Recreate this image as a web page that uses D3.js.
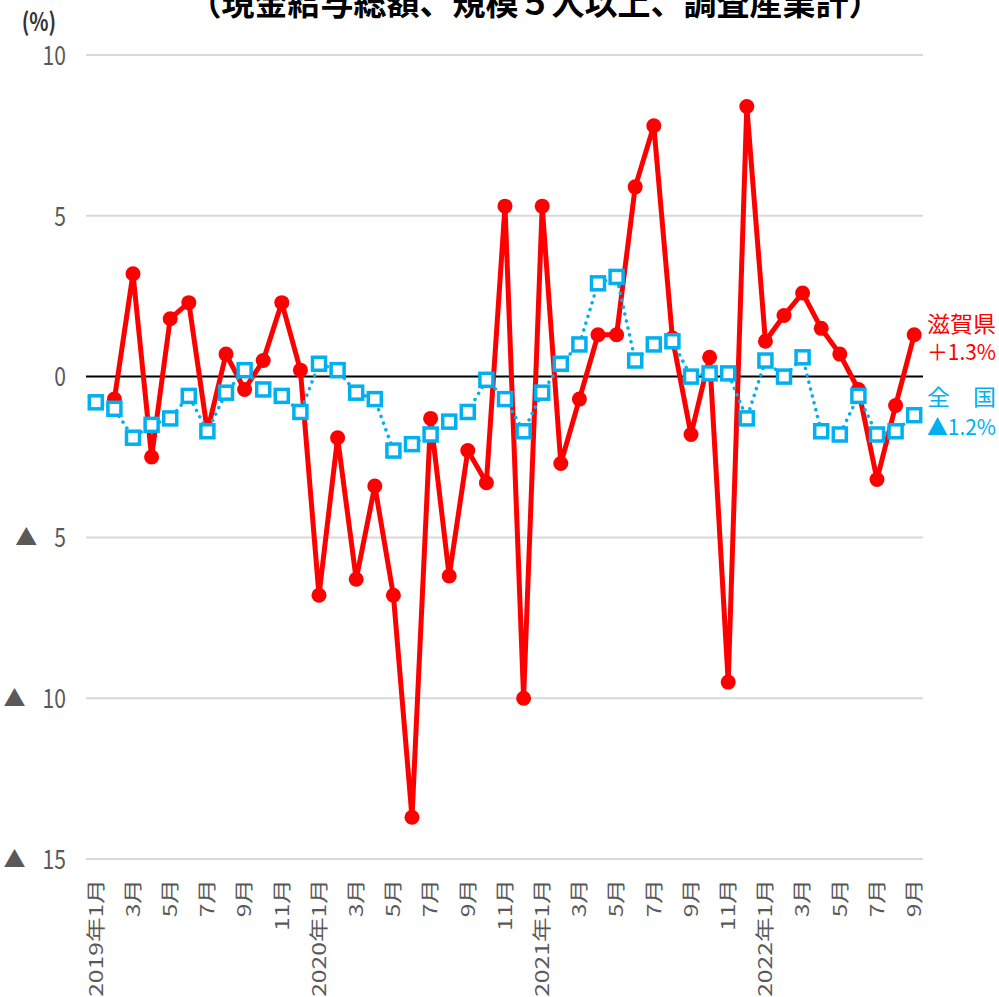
<!DOCTYPE html>
<html>
<head>
<meta charset="utf-8">
<script src="https://cdn.jsdelivr.net/npm/d3@7"></script>
<style>
  body { margin: 0; background: #fff; }
  svg { display: block; }
</style>
</head>
<body>
<div id="chart"></div>
<script>
// months 2019年1月 .. 2022年9月
const months = [];
for (let y = 2019; y <= 2022; y++) {
    for (let m = 1; m <= 12; m++) {
        if (y === 2022 && m > 9) break;
        months.push(y + "-" + m);
    }
}

// 滋賀県 (Jan 2019 not shown)
const shiga = [null, -0.7, 3.2, -2.5, 1.8, 2.3, -1.7, 0.7, -0.4, 0.5, 2.3, 0.2,
    -6.8, -1.9, -6.3, -3.4, -6.8, -13.7, -1.3, -6.2, -2.3, -3.3, 5.3, -10.0,
    5.3, -2.7, -0.7, 1.3, 1.3, 5.9, 7.8, 1.2, -1.8, 0.6, -9.5, 8.4,
    1.1, 1.9, 2.6, 1.5, 0.7, -0.4, -3.2, -0.9, 1.3];

// 全国
const zenkoku = [-0.8, -1.0, -1.9, -1.5, -1.3, -0.6, -1.7, -0.5, 0.2, -0.4, -0.6, -1.1,
    0.4, 0.2, -0.5, -0.7, -2.3, -2.1, -1.8, -1.4, -1.1, -0.1, -0.7, -1.7,
    -0.5, 0.4, 1.0, 2.9, 3.1, 0.5, 1.0, 1.1, 0.0, 0.1, 0.1, -1.3,
    0.5, 0.0, 0.6, -1.7, -1.8, -0.6, -1.8, -1.7, -1.2];

const yTicks = [10, 5, 0, -5, -10, -15];
const yTickLabels = ["10", "5", "0", "5", "10", "15"];  // negatives get a ▲

const title = "（現金給与総額、規模５人以上、調査産業計）";
const shigaLabel = ["滋賀県", "＋1.3%"];
const zenkokuLabel = ["全　国", "▲1.2%"];

const width = 999, height = 997;
const plotLeft = 86, plotRight = 923;

const svg = d3.select("#chart")
    .append("svg")
        .attr("width", width)
        .attr("height", height);

const x = d3.scalePoint()
    .domain(months)
    .range([95.8, 914.2]);

const y = d3.scaleLinear()
    .domain([-15, 10])
    .range([859, 55]);

const font = "'Noto Sans CJK JP', 'Noto Sans', sans-serif";
const grey = "#595959";

// title (top half is cut off in the original)
svg.append("text")
    .attr("x", 535)
    .attr("y", 15)
    .attr("text-anchor", "middle")
    .attr("font-family", font)
    .attr("font-size", 33)
    .attr("font-weight", "bold")
    .attr("fill", "#000")
    .text(title);

svg.append("text")
    .attr("transform", "translate(39,31) scale(0.8,1)")
    .attr("text-anchor", "middle")
    .attr("font-family", font)
    .attr("font-size", 25)
    .attr("font-weight", "bold")
    .attr("fill", "#333")
    .text("(%)");

// gridlines
svg.append("g")
    .selectAll("line")
    .data(yTicks.filter(d => d !== 0))
    .enter()
    .append("line")
        .attr("x1", plotLeft)
        .attr("x2", plotRight)
        .attr("y1", d => y(d))
        .attr("y2", d => y(d))
        .attr("stroke", "#d9d9d9")
        .attr("stroke-width", 2);

// y labels: condensed digits, separate ▲ for negatives
let yl = svg.append("g")
    .selectAll("g")
    .data(yTicks)
    .enter()
    .append("g");

yl.append("text")
    .attr("transform", d => `translate(66,${y(d)}) scale(0.78,1)`)
    .attr("dy", "0.36em")
    .attr("text-anchor", "end")
    .attr("font-family", font)
    .attr("font-size", 27)
    .attr("fill", grey)
    .text((d, i) => yTickLabels[i]);

yl.filter(d => d < 0)
    .append("text")
    .attr("x", d => 66 - yTickLabels[yTicks.indexOf(d)].length * 11.8 - 17)
    .attr("y", d => y(d))
    .attr("dy", "0.36em")
    .attr("text-anchor", "end")
    .attr("font-family", font)
    .attr("font-size", 22)
    .attr("fill", grey)
    .text("▲");

// zero line
svg.append("line")
    .attr("x1", plotLeft)
    .attr("x2", plotRight)
    .attr("y1", y(0))
    .attr("y2", y(0))
    .attr("stroke", "#000")
    .attr("stroke-width", 2);

// x labels, every other month
const xLabel = function(key) {
    let [yy, mm] = key.split("-");
    return mm === "1" ? yy + "年1月" : mm + "月";
};
svg.append("g")
    .selectAll("text")
    .data(months.filter((d, i) => i % 2 === 0))
    .enter()
    .append("text")
        .attr("transform", d => `translate(${x(d)},879) rotate(-90) scale(1.3,1)`)
        .attr("dy", "0.36em")
        .attr("text-anchor", "end")
        .attr("font-family", font)
        .attr("font-size", 19)
        .attr("fill", grey)
        .text(xLabel);

// 滋賀県 line
const shigaData = months.map((m, i) => ({m: m, v: shiga[i]})).filter(d => d.v !== null);
const line = d3.line()
    .x(d => x(d.m))
    .y(d => y(d.v));

svg.append("path")
    .datum(shigaData)
    .attr("fill", "none")
    .attr("stroke", "#ff0000")
    .attr("stroke-width", 5)
    .attr("stroke-linejoin", "round")
    .attr("d", line);

svg.append("g")
    .selectAll("circle")
    .data(shigaData)
    .enter()
    .append("circle")
        .attr("cx", d => x(d.m))
        .attr("cy", d => y(d.v))
        .attr("r", 7.5)
        .attr("fill", "#ff0000");

// 全国 line
const zenData = months.map((m, i) => ({m: m, v: zenkoku[i]}));
svg.append("path")
    .datum(zenData)
    .attr("fill", "none")
    .attr("stroke", "#00b0f0")
    .attr("stroke-width", 3.5)
    .attr("stroke-linecap", "round")
    .attr("stroke-dasharray", "0.1 7")
    .attr("d", line);

svg.append("g")
    .selectAll("rect")
    .data(zenData)
    .enter()
    .append("rect")
        .attr("x", d => x(d.m) - 6.5)
        .attr("y", d => y(d.v) - 6.5)
        .attr("width", 13)
        .attr("height", 13)
        .attr("fill", "#fff")
        .attr("stroke", "#00b0f0")
        .attr("stroke-width", 3.5);

// end labels
const endLabel = function(lines, color, top, gap) {
    svg.append("g")
        .selectAll("text")
        .data(lines)
        .enter()
        .append("text")
            .attr("x", 927)
            .attr("y", (d, i) => top + i * gap)
            .attr("font-family", font)
            .attr("font-size", 22)
            .attr("textLength", 69)
            .attr("lengthAdjust", "spacingAndGlyphs")
            .attr("fill", color)
            .text(d => d);
};
endLabel(shigaLabel, "#ff0000", 332, 28);
endLabel(zenkokuLabel, "#00b0f0", 405, 30);
</script>
</body>
</html>
